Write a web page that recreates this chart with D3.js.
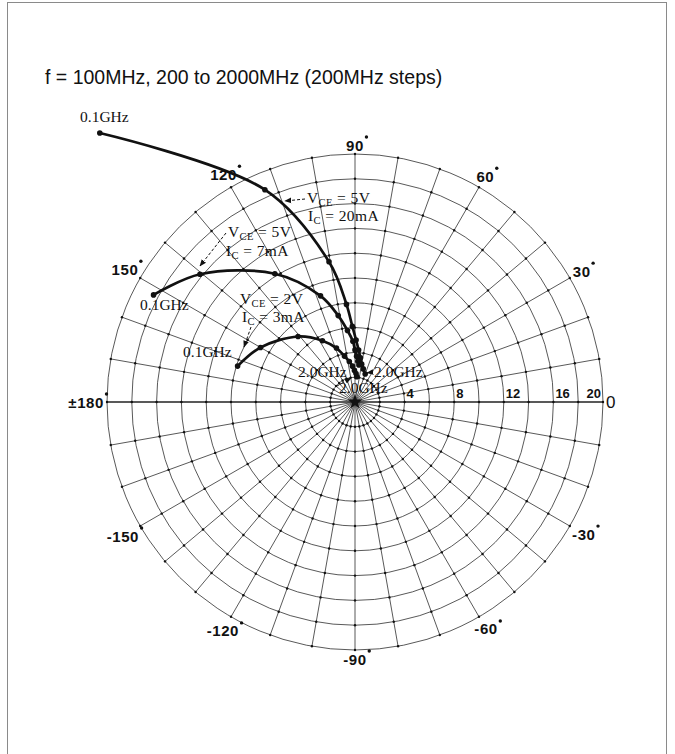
<!DOCTYPE html>
<html>
<head>
<meta charset="utf-8">
<script src="https://cdn.jsdelivr.net/npm/d3@7"></script>
<style>
  html, body { margin: 0; padding: 0; background: #fff; }
  svg { display: block; }
  .serif { font-family: "Liberation Serif", "DejaVu Serif", serif; fill: #111; }
  .sans  { font-family: "Liberation Sans", Arial, sans-serif; fill: #111; }
</style>
</head>
<body>
<svg id="chart" width="675" height="754"></svg>
<script>
// Forward transmission coefficient S21 (magnitude, angle in degrees)
const freqGHz = [0.1, 0.2, 0.4, 0.6, 0.8, 1.0, 1.2, 1.4, 1.6, 1.8, 2.0];

// VCE = 5V, IC = 20mA
const magA = [29.9, 18.6, 11.5, 7.9, 6.1, 5.0, 4.2, 3.6, 3.1, 2.75, 2.4];
const angA = [133.5, 113, 100.5, 95, 92, 89, 86, 83, 80, 76, 70];

// VCE = 5V, IC = 7mA
const magB = [18.4, 16.2, 12.2, 9.0, 7.1, 5.8, 4.9, 4.2, 3.7, 3.3, 3.0];
const angB = [152, 140.5, 122, 108, 101, 96, 92, 90, 88, 86, 84];

// VCE = 2V, IC = 3mA
const magC = [9.9, 8.8, 7.0, 5.6, 4.6, 3.8, 3.3, 2.9, 2.55, 2.3, 2.05];
const angC = [163, 150, 131, 118, 109, 103, 98, 94, 91, 88, 86];

// Grid
const ringValues = [2, 4, 6, 8, 10, 12, 14, 16, 18, 20];
const spokeAngles = d3.range(0, 360, 10);
const magTickValues = [4, 8, 12, 16, 20];
const angleTickValues = [90, 60, 30, 0, -30, -60, -90, -120, -150, 180, 150, 120];
const angleTickTexts = ["90", "60", "30", "0", "-30", "-60", "-90", "-120", "-150", "\u00b1180", "150", "120"];

const titleText = "f = 100MHz, 200 to 2000MHz (200MHz steps)";

const svg = d3.select("#chart");
const cx = 355, cy = 402, R = 248;
const r = d3.scaleLinear().domain([0, 20]).range([0, R]);
const rad = d => d * Math.PI / 180;
const X = (m, a) => cx + r(m) * Math.cos(rad(a));
const Y = (m, a) => cy - r(m) * Math.sin(rad(a));

// frame
svg.append("rect")
  .attr("x", 7.5).attr("y", 2.5).attr("width", 659).attr("height", 800)
  .attr("fill", "none").attr("stroke", "#8a8a8a").attr("stroke-width", 1);

// title
svg.append("text").attr("class", "sans")
  .attr("x", 45).attr("y", 84)
  .attr("font-size", 19.5)
  .attr("fill", "#1a1a1a")
  .text(titleText);

const grid = svg.append("g");

grid.selectAll("circle.ring").data(ringValues).join("circle")
  .attr("class", "ring")
  .attr("cx", cx).attr("cy", cy).attr("r", d => r(d))
  .attr("fill", "none").attr("stroke", "#222").attr("stroke-width", 0.75);

grid.selectAll("line.spoke").data(spokeAngles).join("line")
  .attr("class", "spoke")
  .attr("x1", cx).attr("y1", cy)
  .attr("x2", d => X(20, d)).attr("y2", d => Y(20, d))
  .attr("stroke", "#222")
  .attr("stroke-width", d => (d % 180 === 0 ? 1.6 : 0.75));

// small dots where rings and spokes cross
const crossings = [];
ringValues.forEach(v => spokeAngles.forEach(a => crossings.push([v, a])));
grid.selectAll("circle.node").data(crossings).join("circle")
  .attr("class", "node")
  .attr("cx", d => X(d[0], d[1])).attr("cy", d => Y(d[0], d[1]))
  .attr("r", 1.2).attr("fill", "#111");

// origin marker
grid.append("path")
  .attr("d", d3.symbol().type(d3.symbolStar).size(70)())
  .attr("transform", `translate(${cx},${cy})`)
  .attr("fill", "#111");

// magnitude scale labels along 0 deg
svg.selectAll("text.mag").data(magTickValues).join("text")
  .attr("class", "mag sans")
  .attr("x", d => d === 20 ? cx + r(d) - 2 : cx + r(d) + 2)
  .attr("y", cy - 4)
  .attr("text-anchor", d => d === 20 ? "end" : "start")
  .attr("font-size", 13).attr("font-weight", "bold")
  .text(d => d);

// angle labels around the outer ring
const angleLabels = svg.selectAll("g.ang").data(angleTickValues).join("g").attr("class", "ang");
angleLabels.each(function (a, i) {
  const g = d3.select(this);
  const t = g.append("text").attr("class", "sans")
    .attr("font-size", a === 0 ? 17 : 15)
    .attr("font-weight", a === 0 ? "normal" : "bold")
    .attr("letter-spacing", a === 0 ? 0 : 0.6)
    .attr("text-anchor", "middle")
    .attr("dominant-baseline", "central")
    .text(angleTickTexts[i]);
  const w = t.node().getComputedTextLength();
  const dist = R + 3 + (w / 2) * Math.abs(Math.cos(rad(a))) + 6 * Math.abs(Math.sin(rad(a)));
  const x = cx + dist * Math.cos(rad(a));
  const y = cy - dist * Math.sin(rad(a));
  t.attr("x", x).attr("y", y);
  if (a !== 0) {
    g.append("circle")
      .attr("cx", x + w / 2 + 2.5).attr("cy", y - 8)
      .attr("r", 1.7).attr("fill", "#111");
  }
});

// S21 curves
const series = [
  { mag: magA, ang: angA },
  { mag: magB, ang: angB },
  { mag: magC, ang: angC }
];
const line = d3.line()
  .x(d => X(d.m, d.a)).y(d => Y(d.m, d.a))
  .curve(d3.curveCatmullRom.alpha(0.5));

const curves = svg.append("g");
series.forEach(s => {
  const pts = freqGHz.map((f, i) => ({ f, m: s.mag[i], a: s.ang[i] }));
  curves.append("path").datum(pts)
    .attr("d", line)
    .attr("fill", "none").attr("stroke", "#111")
    .attr("stroke-width", 2.7).attr("stroke-linejoin", "round");
  curves.selectAll(null).data(pts).join("circle")
    .attr("cx", d => X(d.m, d.a)).attr("cy", d => Y(d.m, d.a))
    .attr("r", 2.8).attr("fill", "#111");
});

// annotations
function biasLabel(x, y, sub, rest) {
  const t = svg.append("text").attr("class", "serif")
    .attr("x", x).attr("y", y).attr("font-size", 15.5).attr("letter-spacing", 0.4);
  t.append("tspan").text(sub[0]);
  t.append("tspan").attr("font-size", 10.5).attr("dy", 3).text(sub[1]);
  t.append("tspan").attr("dy", -3).text(rest);
}
biasLabel(307, 203, ["V", "CE"], " = 5V");
biasLabel(308, 221, ["I", "C"], " = 20mA");
biasLabel(228, 237, ["V", "CE"], " = 5V");
biasLabel(226, 256, ["I", "C"], " = 7mA");
biasLabel(240, 304, ["V", "CE"], " = 2V");
biasLabel(242, 322, ["I", "C"], " = 3mA");

const freqLabels = [
  { x: 80, y: 122, t: "0.1GHz" },
  { x: 140, y: 310, t: "0.1GHz" },
  { x: 183, y: 357, t: "0.1GHz" },
  { x: 298, y: 377, t: "2.0GHz" },
  { x: 374, y: 377, t: "2.0GHz" },
  { x: 339, y: 393, t: "2.0GHz" }
];
svg.selectAll("text.freq").data(freqLabels).join("text")
  .attr("class", "freq serif")
  .attr("x", d => d.x).attr("y", d => d.y)
  .attr("font-size", 15.5)
  .text(d => d.t);

// leader lines with arrow heads
svg.append("defs").append("marker")
  .attr("id", "arr").attr("viewBox", "0 0 10 10")
  .attr("refX", 9).attr("refY", 5)
  .attr("markerWidth", 7).attr("markerHeight", 7)
  .attr("orient", "auto")
  .append("path").attr("d", "M0,1 L10,5 L0,9 Z").attr("fill", "#111");

const leaders = [
  [[305, 199], [285, 201]],
  [[226, 233], [200, 266]],
  [[251, 327], [244, 347]],
  [[337, 386], [351, 378]],
  [[373, 372], [367, 373]]
];
svg.selectAll("path.leader").data(leaders).join("path")
  .attr("class", "leader")
  .attr("d", d => d3.line()(d))
  .attr("stroke", "#111").attr("stroke-width", 1)
  .attr("stroke-dasharray", "3,2")
  .attr("fill", "none")
  .attr("marker-end", "url(#arr)");
</script>
</body>
</html>
